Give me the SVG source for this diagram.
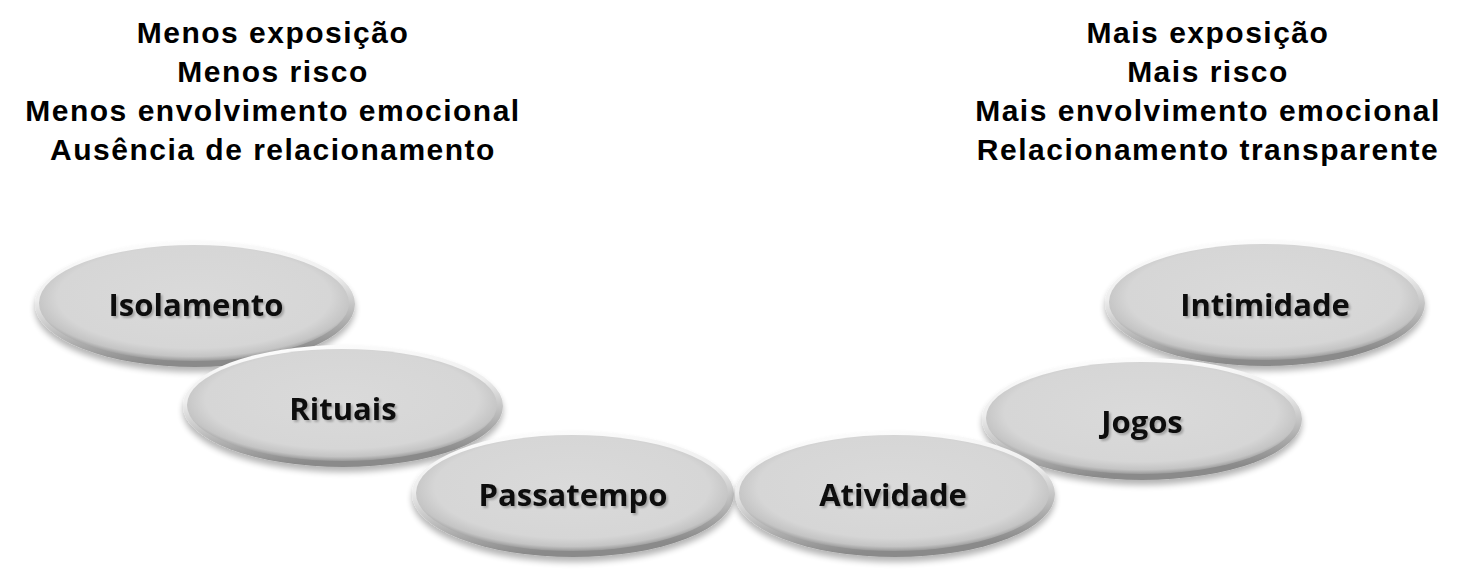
<svg xmlns="http://www.w3.org/2000/svg" width="1471" height="573" viewBox="0 0 1471 573">
<defs>
<radialGradient id="fillG" cx="0.5" cy="0.45" r="0.55">
<stop offset="0" stop-color="#dadada"/>
<stop offset="0.8" stop-color="#d6d6d6"/>
<stop offset="0.93" stop-color="#c4c4c4"/>
<stop offset="1" stop-color="#9a9a9a"/>
</radialGradient>
<linearGradient id="rimG" x1="0" y1="0" x2="0.2" y2="1">
<stop offset="0" stop-color="#ffffff"/>
<stop offset="0.45" stop-color="#eeeeee"/>
<stop offset="1" stop-color="#8a8a8a"/>
</linearGradient>
<filter id="shadow" x="-10%" y="-10%" width="120%" height="135%">
<feGaussianBlur in="SourceAlpha" stdDeviation="3"/>
<feOffset dx="0" dy="5" result="b"/>
<feComponentTransfer><feFuncA type="linear" slope="0.3"/></feComponentTransfer>
<feMerge><feMergeNode/><feMergeNode in="SourceGraphic"/></feMerge>
</filter>
<filter id="tshadow" x="-10%" y="-20%" width="120%" height="150%">
<feGaussianBlur in="SourceAlpha" stdDeviation="1.2"/>
<feOffset dx="1.5" dy="2"/>
<feComponentTransfer><feFuncA type="linear" slope="0.25"/></feComponentTransfer>
<feMerge><feMergeNode/><feMergeNode in="SourceGraphic"/></feMerge>
</filter>
</defs>
<style>
.head{font-family:"Liberation Sans",Arial,sans-serif;font-weight:bold;font-size:30px;letter-spacing:1.5px;fill:#000;text-anchor:middle}
.rim{fill:url(#rimG)}
.body{fill:url(#fillG)}
.lbl{font-family:"Open Sans","Noto Sans",sans-serif;font-weight:bold;font-size:31px;fill:#111;text-anchor:middle}
</style>
<rect width="1471" height="573" fill="#ffffff"/>
<g id="left-header">
<text class="head" x="273" y="43">Menos exposição</text>
<text class="head" x="273" y="82">Menos risco</text>
<text class="head" x="273" y="121">Menos envolvimento emocional</text>
<text class="head" x="273" y="160">Ausência de relacionamento</text>
</g>
<g id="right-header">
<text class="head" x="1208" y="43">Mais exposição</text>
<text class="head" x="1208" y="82">Mais risco</text>
<text class="head" x="1208" y="121">Mais envolvimento emocional</text>
<text class="head" x="1208" y="160">Relacionamento transparente</text>
</g>
<g id="connectors"></g>
<g id="isolamento" filter="url(#shadow)">
<ellipse class="rim" cx="195" cy="304" rx="160" ry="63"/>
<ellipse class="body" cx="194" cy="303" rx="155" ry="58"/>
<text class="lbl" x="196" y="316" filter="url(#tshadow)">Isolamento</text>
</g>
<g id="rituais" filter="url(#shadow)">
<ellipse class="rim" cx="343" cy="406" rx="160" ry="61"/>
<ellipse class="body" cx="342" cy="405" rx="155" ry="56"/>
<text class="lbl" x="343" y="420" filter="url(#tshadow)">Rituais</text>
</g>
<g id="intimidade" filter="url(#shadow)">
<ellipse class="rim" cx="1265" cy="303" rx="160" ry="63"/>
<ellipse class="body" cx="1264" cy="302" rx="155" ry="58"/>
<text class="lbl" x="1265" y="316" filter="url(#tshadow)">Intimidade</text>
</g>
<g id="jogos" filter="url(#shadow)">
<ellipse class="rim" cx="1142" cy="419" rx="160" ry="61"/>
<ellipse class="body" cx="1141" cy="418" rx="155" ry="56"/>
<text class="lbl" x="1142" y="433" filter="url(#tshadow)">Jogos</text>
</g>
<g id="passatempo" filter="url(#shadow)">
<ellipse class="rim" cx="573" cy="494" rx="161" ry="63"/>
<ellipse class="body" cx="572" cy="493" rx="156" ry="58"/>
<text class="lbl" x="573" y="506" filter="url(#tshadow)">Passatempo</text>
</g>
<g id="atividade" filter="url(#shadow)">
<ellipse class="rim" cx="895" cy="494" rx="160" ry="63"/>
<ellipse class="body" cx="894" cy="493" rx="155" ry="58"/>
<text class="lbl" x="893" y="506" filter="url(#tshadow)">Atividade</text>
</g>
</svg>
